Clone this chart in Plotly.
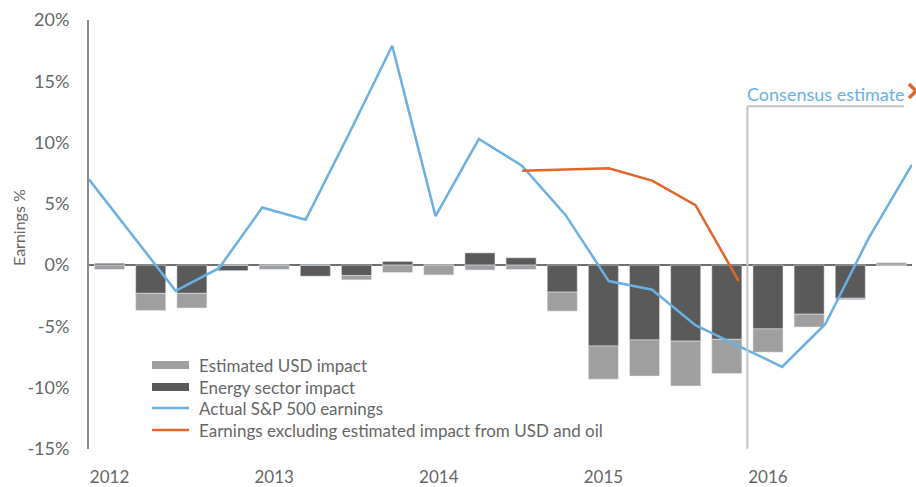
import plotly.graph_objects as go

quarters = list(range(20))
year_ticks = [0, 4, 8, 12, 16]
year_labels = ["2012", "2013", "2014", "2015", "2016"]

energy_impact = [0.15, -2.3, -2.3, -0.45, 0, -0.9, -0.85, 0.3, 0, 1.0,
                 0.6, -2.2, -6.6, -6.1, -6.2, -6.05, -5.2, -4.0, -2.7, 0]
usd_impact = [-0.35, -1.4, -1.2, 0, -0.35, 0, -0.35, -0.6, -0.8, -0.4,
              -0.35, -1.55, -2.7, -2.95, -3.65, -2.8, -1.9, -1.05, -0.12, 0.2]
actual_earnings = [7.0, 2.4, -2.1, -0.25, 4.7, 3.7, 10.7, 17.9, 4.0, 10.3,
                   8.1, 4.1, -1.3, -2.0, -4.9, -6.6, -8.3, -4.8, 2.2, 8.2]
ex_quarters = [10, 11, 12, 13, 14, 15]
ex_earnings = [7.7, 7.8, 7.9, 6.9, 4.9, -1.3]

DARK = "#5a5a5a"
LIGHT = "#9f9f9f"
BLUE = "#6ab0e2"
ORANGE = "#e0662a"
TXT = "#666666"
FONT = "Lato"

fig = go.Figure()
fig.add_trace(go.Bar(x=quarters, y=energy_impact, marker_color=DARK, width=0.73,
                     name="Energy sector impact", showlegend=False))
fig.add_trace(go.Bar(x=quarters, y=usd_impact, marker_color=LIGHT, width=0.73,
                     name="Estimated USD impact", showlegend=False))
fig.add_trace(go.Scatter(x=quarters, y=actual_earnings, mode="lines", xaxis="x2",
                         line=dict(color=BLUE, width=2.5), name="Actual S&P 500 earnings",
                         showlegend=False))
fig.add_trace(go.Scatter(x=ex_quarters, y=ex_earnings, mode="lines", xaxis="x2",
                         line=dict(color=ORANGE, width=2.5),
                         name="Earnings excluding estimated impact from USD and oil",
                         showlegend=False))

W, H = 916, 487
L, R, T, B = 89, 4, 20, 38
pw, ph = W - L - R, H - T - B
PL, PB = L, H - B

def px(x):
    return (x - PL) / pw

def py(y):
    return (PB - y) / ph

shapes = []
annotations = []
legend_items = [
    ("Estimated USD impact", "rect", LIGHT),
    ("Energy sector impact", "rect", DARK),
    ("Actual S&P 500 earnings", "line", BLUE),
    ("Earnings excluding estimated impact from USD and oil", "line", ORANGE),
]
rows_y = [365, 387, 408, 430]
for (label, kind, col), yy in zip(legend_items, rows_y):
    if kind == "rect":
        shapes.append(dict(type="rect", xref="paper", yref="paper",
                           x0=px(152), x1=px(189), y0=py(yy + 4), y1=py(yy - 4),
                           fillcolor=col, line=dict(width=0)))
    else:
        shapes.append(dict(type="line", xref="paper", yref="paper",
                           x0=px(152), x1=px(189), y0=py(yy), y1=py(yy),
                           line=dict(color=col, width=2.5)))
    annotations.append(dict(text=label, xref="paper", yref="paper", x=px(197), y=py(yy),
                            xanchor="left", yanchor="middle", showarrow=False,
                            font=dict(family=FONT, size=17, color=TXT)))

# consensus estimate marker
shapes.append(dict(type="line", xref="x", yref="y", x0=15.5, x1=15.5, y0=-16.0, y1=12.97,
                   line=dict(color="#c4c4c4", width=2)))
shapes.append(dict(type="line", xref="x", yref="y", x0=15.5, x1=19.3, y0=12.97, y1=12.97,
                   line=dict(color="#c4c4c4", width=2)))
annotations.append(dict(text="Consensus estimate", xref="x", yref="y", x=15.45, y=14.0,
                        xanchor="left", yanchor="middle", showarrow=False,
                        font=dict(family=FONT, size=18, color=BLUE)))
# orange chevron (cut by the right edge)
chev = "M {x0},{y0} L {x1},{y1} L {x0},{y2}".format(
    x0=px(909), y0=py(84), x1=px(916), y1=py(91), y2=py(98))
shapes.append(dict(type="path", xref="paper", yref="paper", path=chev,
                   line=dict(color=ORANGE, width=3.5)))
annotations.append(dict(text="Earnings %", xref="paper", yref="paper", x=px(18), y=py(228),
                        xanchor="center", yanchor="middle", textangle=-90, showarrow=False,
                        font=dict(family=FONT, size=16, color=TXT)))

fig.update_layout(
    width=W, height=H,
    margin=dict(l=L, r=R, t=T, b=B),
    paper_bgcolor="white", plot_bgcolor="white",
    barmode="relative",
    showlegend=False,
    font=dict(family=FONT, color=TXT),
    xaxis=dict(range=[-0.5, 19.5], tickvals=year_ticks, ticktext=year_labels,
               showgrid=False, zeroline=False, showline=False, automargin=False,
               ticks="outside", ticklen=13, tickcolor="rgba(0,0,0,0)",
               tickfont=dict(family=FONT, size=17, color=TXT)),
    xaxis2=dict(range=[0, 19], overlaying="x", visible=False),
    yaxis=dict(range=[-15, 20], tickvals=[-15, -10, -5, 0, 5, 10, 15, 20],
               ticktext=["-15%", "-10%", "-5%", "0%", "5%", "10%", "15%", "20%"],
               showgrid=False, zeroline=True, zerolinecolor="#707070", zerolinewidth=2,
               showline=True, linecolor="#8c8c8c", linewidth=2, automargin=False,
               ticks="", ticklabelstandoff=14,
               tickfont=dict(family=FONT, size=18, color=TXT)),
    shapes=shapes,
    annotations=annotations,
)

fig.write_html(
    "out.html",
    config={"displayModeBar": False},
    post_script="document.body.style.margin='0';document.documentElement.style.overflow='hidden';",
)
